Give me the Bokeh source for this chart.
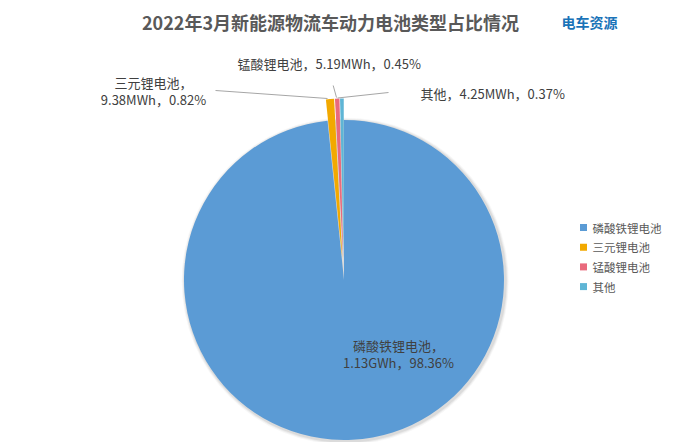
import numpy as np
from bokeh.plotting import figure
from bokeh.models import ColumnDataSource, Range1d
from bokeh.core.properties import value
from bokeh.embed import file_html
from bokeh.resources import INLINE

# ---- data ----
title_text = "2022年3月新能源物流车动力电池类型占比情况"
categories = ["磷酸铁锂电池", "三元锂电池", "锰酸锂电池", "其他"]
energy = ["1.13GWh", "9.38MWh", "5.19MWh", "4.25MWh"]
share = [98.36, 0.82, 0.45, 0.37]
colors = ["#5B9BD5", "#F2A900", "#E96A7D", "#5FB5D5"]
exploded = [False, True, True, True]

FONT = "Noto Sans CJK SC"
W, H = 684, 442

def Y(sy):
    # screen y (reference pixels) -> data y
    return 446 - sy

p = figure(width=W, height=H, x_range=Range1d(0, 684), y_range=Range1d(446 - H, 446),
           output_backend="svg", toolbar_location=None, min_border=0)
p.axis.visible = False
p.grid.visible = False
p.outline_line_color = None
p.background_fill_color = "white"

# ---- pie geometry ----
CX, CY, R = 343.5, Y(279.5), 160
EXPLODE = 21.5
frac = np.array(share) / np.sum(share)
cum_end = np.cumsum(frac)
cum_start = cum_end - frac
start = np.pi / 2 - 2 * np.pi * cum_start
end = np.pi / 2 - 2 * np.pi * cum_end
mid = (start + end) / 2
off = np.array([EXPLODE if e else 0.0 for e in exploded])
xs = CX + off * np.cos(mid)
ys = CY + off * np.sin(mid)

# soft shadow
for dr, a in [(3.5, 0.06), (2.5, 0.10), (1.5, 0.14)]:
    p.circle(x=CX + 1.2, y=CY - 1.2, radius=R + dr, fill_color="#7F7F7F",
             fill_alpha=a, line_color=None)

src = ColumnDataSource(dict(x=xs, y=ys, start=start, end=end, color=colors,
                            cat=categories))
p.wedge(x="x", y="y", radius=R, start_angle="start", end_angle="end",
        direction="clock", fill_color="color", line_color=None, source=src)

# ---- leader lines ----
LC = "#A6A6A6"
p.line(x=[215, 327], y=[Y(90), Y(98)], line_color=LC, line_width=1)
p.line(x=[332.7, 336], y=[Y(85), Y(97)], line_color=LC, line_width=1)
p.line(x=[337, 388], y=[Y(97.5), Y(92)], line_color=LC, line_width=1)

# ---- data labels ----
LAB = "#404040"
def txt(x, y, t, align="center", size="13px", color=LAB, style="normal"):
    p.text(x=[x], y=[Y(y)], text=[t], text_align=align, text_baseline="middle",
           text_font=value(FONT), text_font_size=size, text_color=color,
           text_font_style=style)

pct = [f"{s:.2f}%" for s in share]
txt(398, 345, categories[0] + "，")
txt(398, 362, energy[0] + "，" + pct[0])
txt(153, 82, categories[1] + "，")
txt(153, 99, energy[1] + "，" + pct[1])
txt(237, 63, categories[2] + "，" + energy[2] + "，" + pct[2], align="left")
txt(420, 93, categories[3] + "，" + energy[3] + "，" + pct[3], align="left")

# ---- title & logo ----
txt(330, 21, title_text, size="18px", color="#595959", style="bold")
txt(589, 21, "电车资源", size="14px", color="#1A73B8", style="bold")

# ---- legend ----
leg_y = [Y(227 + 19.7 * i) for i in range(len(categories))]
leg = ColumnDataSource(dict(x=[583] * 4, tx=[592] * 4, y=leg_y, color=colors,
                            cat=categories))
p.scatter(x="x", y="y", marker="square", size=7, fill_color="color",
          line_color=None, source=leg)
p.text(x="tx", y="y", text="cat", text_align="left", text_baseline="middle",
       text_font=value(FONT), text_font_size="11.5px", text_color="#595959",
       source=leg)

open("out.html", "w").write(file_html(p, INLINE))
